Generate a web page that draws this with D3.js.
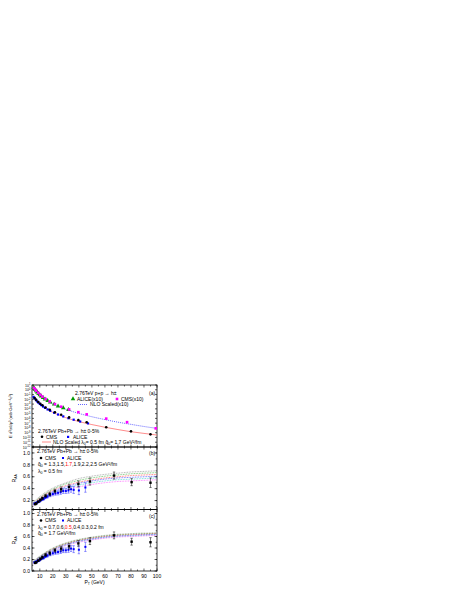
<!DOCTYPE html>
<html>
<head>
<meta charset="utf-8">
<script src="https://cdn.jsdelivr.net/npm/d3@7"></script>
<style>
  body { margin: 0; background: #fff; }
  text { font-family: "Liberation Sans", "DejaVu Sans", Arial, sans-serif; fill: #000; }
</style>
</head>
<body>
<div id="chart"></div>
<script>
// ---- data ----
const nloPt = [5, 6, 7, 8, 10, 12, 15, 20, 25, 30, 40, 50, 60, 70, 80, 90, 100];
const nloPPx10 = [4.0, 1.6, 0.71, 0.33, 0.089, 0.028, 7.1e-3, 1.1e-3, 2.5e-4, 7.9e-5, 1.1e-5, 2.2e-6, 5.6e-7, 1.6e-7, 5.6e-8, 2.0e-8, 7.9e-9];
const nloPbPb = [0.040, 0.018, 8.9e-3, 4.5e-3, 1.3e-3, 4.5e-4, 1.1e-4, 1.8e-5, 4.5e-6, 1.4e-6, 2.2e-7, 5.0e-8, 1.4e-8, 4.5e-9, 1.6e-9, 7.1e-10, 3.2e-10];

const alicePPPt = [5.2, 5.8, 6.5, 7.2, 8.0, 9.0, 10.0, 11.0, 12.5, 14.0, 16.0, 18.0, 21.0, 24.0, 28.0, 32.0];
const alicePPx10 = [3.0, 1.8, 1.0, 0.55, 0.31, 0.15, 0.08, 0.045, 0.022, 0.011, 5.0e-3, 2.4e-3, 9.0e-4, 3.8e-4, 1.5e-4, 6.5e-5];

const cmsPPPt = [5.4, 6.4, 7.2, 8.8, 10.4, 12.0, 14.4, 17.6, 21.6, 26.4, 32.5, 39.6, 46.0, 61.0, 77.0, 99.0];
const cmsPPx10 = [2.6, 1.2, 0.65, 0.22, 0.085, 0.036, 0.012, 3.6e-3, 1.0e-3, 2.8e-4, 7.5e-5, 2.0e-5, 7.0e-6, 9.0e-7, 1.6e-7, 8.0e-9];

const cmsAAPt = [6.0, 7.2, 8.8, 10.4, 12.0, 14.4, 17.6, 21.6, 26.4, 32.5, 39.6, 46.0, 61.0, 80.0, 95.0];
const cmsAAYield = [0.019, 7.5e-3, 2.8e-3, 1.2e-3, 5.5e-4, 1.9e-4, 6.5e-5, 1.9e-5, 5.8e-6, 1.6e-6, 4.3e-7, 1.6e-7, 1.4e-8, 1.9e-9, 4.5e-10];

const aliceAAPt = [5.2, 5.8, 6.5, 7.2, 8.0, 9.0, 10.0, 11.0, 12.5, 14.0, 16.0, 18.0, 21.0, 24.0, 28.0, 32.0, 36.0, 41.0, 47.0];
const aliceAAYield = [0.032, 0.02, 0.011, 6.5e-3, 3.6e-3, 1.9e-3, 1.05e-3, 6.2e-4, 3.0e-4, 1.6e-4, 7.5e-5, 3.8e-5, 1.5e-5, 6.5e-6, 2.6e-6, 1.1e-6, 5.3e-7, 2.2e-7, 9.0e-8];

// R_AA data
const cmsRaaPt = [6.4, 7.2, 8.8, 10.4, 12.0, 14.4, 17.6, 21.6, 26.4, 32.5, 39.6, 48.5, 67.0, 80.5, 95.0];
const cmsRaa = [0.14, 0.15, 0.18, 0.21, 0.24, 0.28, 0.31, 0.36, 0.39, 0.43, 0.48, 0.52, 0.62, 0.51, 0.50];
const cmsRaaErr = [0.01, 0.01, 0.015, 0.02, 0.02, 0.025, 0.03, 0.03, 0.04, 0.045, 0.05, 0.06, 0.06, 0.06, 0.08];

const aliceRaaPt = [6.0, 6.5, 7.0, 7.5, 8.0, 9.0, 10.0, 11.0, 12.0, 13.0, 14.0, 15.0, 16.0, 18.0, 20.0, 22.0, 24.0, 26.0, 28.0, 30.0, 32.0, 34.0, 36.0, 40.0, 45.0];
const aliceRaa = [0.15, 0.15, 0.16, 0.16, 0.17, 0.18, 0.19, 0.21, 0.22, 0.23, 0.25, 0.26, 0.27, 0.29, 0.31, 0.32, 0.33, 0.34, 0.36, 0.36, 0.37, 0.39, 0.38, 0.37, 0.42];
const aliceRaaErr = [0.01, 0.01, 0.01, 0.01, 0.012, 0.012, 0.015, 0.015, 0.018, 0.02, 0.02, 0.022, 0.025, 0.025, 0.03, 0.03, 0.035, 0.035, 0.04, 0.04, 0.045, 0.05, 0.06, 0.07, 0.08];

const curvePt = [5, 10, 20, 30, 40, 50, 60, 70, 80, 90, 100];
// panel (b): qhat0 = 1.3, 1.5, 1.7, 1.9, 2.2, 2.5 GeV^2/fm
const qhatLabels = ['1.3', '1.5', '1.7', '1.9', '2.2', '2.5'];
const raaQhat = [
  [0.17, 0.27, 0.41, 0.50, 0.57, 0.61, 0.64, 0.66, 0.68, 0.69, 0.70],
  [0.16, 0.25, 0.39, 0.48, 0.54, 0.58, 0.61, 0.63, 0.65, 0.66, 0.67],
  [0.15, 0.24, 0.37, 0.45, 0.51, 0.55, 0.58, 0.60, 0.62, 0.63, 0.64],
  [0.14, 0.22, 0.35, 0.43, 0.49, 0.53, 0.56, 0.58, 0.59, 0.60, 0.61],
  [0.13, 0.21, 0.32, 0.40, 0.46, 0.50, 0.53, 0.55, 0.56, 0.57, 0.58],
  [0.12, 0.19, 0.30, 0.38, 0.43, 0.47, 0.50, 0.52, 0.53, 0.54, 0.55]
];
// panel (c): lambda0 = 0.7, 0.6, 0.5, 0.4, 0.3, 0.2 fm
const lambdaLabels = ['0.7', '0.6', '0.5', '0.4', '0.3', '0.2'];
const raaLambda = [
  [0.17, 0.26, 0.40, 0.49, 0.55, 0.59, 0.62, 0.64, 0.65, 0.66, 0.66],
  [0.16, 0.25, 0.39, 0.48, 0.54, 0.58, 0.61, 0.63, 0.64, 0.65, 0.66],
  [0.15, 0.24, 0.38, 0.47, 0.53, 0.57, 0.60, 0.62, 0.63, 0.64, 0.65],
  [0.15, 0.24, 0.37, 0.46, 0.52, 0.56, 0.59, 0.61, 0.62, 0.63, 0.64],
  [0.14, 0.23, 0.36, 0.45, 0.51, 0.55, 0.58, 0.60, 0.61, 0.62, 0.63],
  [0.13, 0.22, 0.35, 0.44, 0.50, 0.54, 0.57, 0.59, 0.60, 0.61, 0.62]
];
const curveColors = ['#888888', '#33aa33', '#ff3333', '#3333ff', '#33cccc', '#ff44ff'];

const xTicks = [10, 20, 30, 40, 50, 60, 70, 80, 90, 100];
const raaTicks = [0.2, 0.4, 0.6, 0.8, 1.0];
const raaTicksC = [0.0, 0.2, 0.4, 0.6, 0.8, 1.0];

// ---- layout ----
const width = 463;
const height = 599;
const left = 32;
const right = 157;
const topA = 385, botA = 447;
const topB = 447, botB = 509.5;
const topC = 509.5, botC = 571;

const svg = d3.select('#chart')
  .append('svg')
  .attr('width', width)
  .attr('height', height);

const x = d3.scaleLinear().domain([4, 100]).range([left, right]);
const yA = d3.scaleLog().domain([1e-12, 1e1]).range([botA, topA]);
const yB = d3.scaleLinear().domain([0.05, 1.1]).range([botB, topB]);
const yC = d3.scaleLinear().domain([0, 1.07]).range([botC, topC]);

const FS = 5;

function frame(top, bot) {
  svg.append('rect')
    .attr('x', left).attr('y', top)
    .attr('width', right - left).attr('height', bot - top)
    .attr('fill', 'none').attr('stroke', '#000').attr('stroke-width', 0.8);
}

function xTickMarks(top, bot) {
  const minor = d3.range(5, 101, 5);
  minor.forEach(v => {
    const len = v % 10 === 0 ? 2.5 : 1.5;
    svg.append('line').attr('x1', x(v)).attr('x2', x(v)).attr('y1', bot).attr('y2', bot - len)
      .attr('stroke', '#000').attr('stroke-width', 0.6);
    svg.append('line').attr('x1', x(v)).attr('x2', x(v)).attr('y1', top).attr('y2', top + len)
      .attr('stroke', '#000').attr('stroke-width', 0.6);
  });
}

function yTickMarks(scale, values, len) {
  values.forEach(v => {
    const yy = scale(v);
    svg.append('line').attr('x1', left).attr('x2', left + len).attr('y1', yy).attr('y2', yy)
      .attr('stroke', '#000').attr('stroke-width', 0.6);
    svg.append('line').attr('x1', right).attr('x2', right - len).attr('y1', yy).attr('y2', yy)
      .attr('stroke', '#000').attr('stroke-width', 0.6);
  });
}

// ---- panel (a) ----
frame(topA, botA);
xTickMarks(topA, botA);
const decades = d3.range(-12, 2);
yTickMarks(yA, decades.map(d => Math.pow(10, d)), 2);
decades.forEach(d => {
  const t = svg.append('text')
    .attr('x', left - 1.5).attr('y', yA(Math.pow(10, d)) + 1.5)
    .attr('text-anchor', 'end').attr('font-size', 3.6);
  t.append('tspan').text('10');
  t.append('tspan').attr('dy', -1.3).attr('font-size', 2.6).text(d);
});
svg.append('text')
  .attr('transform', `translate(12,${(topA + botA) / 2}) rotate(-90)`)
  .attr('text-anchor', 'middle').attr('font-size', 4.2)
  .text('E d³σ/dp³ (mb·GeV⁻²c³)');

const lineA = d3.line().x((d, i) => x(nloPt[i])).y(d => yA(d)).curve(d3.curveMonotoneX);
svg.append('path').attr('d', lineA(nloPPx10))
  .attr('fill', 'none').attr('stroke', '#4040ff').attr('stroke-width', 0.8).attr('stroke-dasharray', '1,1');
svg.append('path').attr('d', lineA(nloPbPb))
  .attr('fill', 'none').attr('stroke', '#ff6f6f').attr('stroke-width', 0.8);

function triangles(xs, ys, sc, color) {
  svg.append('g').selectAll('path').data(ys).enter().append('path')
    .attr('d', d3.symbol(d3.symbolTriangle, 9))
    .attr('transform', (d, i) => `translate(${x(xs[i])},${sc(d)})`)
    .attr('fill', color);
}
function squares(xs, ys, sc, color, s) {
  svg.append('g').selectAll('rect').data(ys).enter().append('rect')
    .attr('x', (d, i) => x(xs[i]) - s / 2).attr('y', d => sc(d) - s / 2)
    .attr('width', s).attr('height', s).attr('fill', color);
}
function dots(xs, ys, sc, color, r) {
  svg.append('g').selectAll('circle').data(ys).enter().append('circle')
    .attr('cx', (d, i) => x(xs[i])).attr('cy', d => sc(d)).attr('r', r).attr('fill', color);
}
function errorBars(xs, ys, errs, sc, color) {
  const g = svg.append('g');
  ys.forEach((v, i) => {
    const xx = x(xs[i]);
    g.append('line').attr('x1', xx).attr('x2', xx).attr('y1', sc(v - errs[i])).attr('y2', sc(v + errs[i]))
      .attr('stroke', color).attr('stroke-width', 0.5);
    [v - errs[i], v + errs[i]].forEach(e => {
      g.append('line').attr('x1', xx - 1.2).attr('x2', xx + 1.2).attr('y1', sc(e)).attr('y2', sc(e))
        .attr('stroke', color).attr('stroke-width', 0.5);
    });
  });
}

triangles(alicePPPt, alicePPx10, yA, '#009900');
squares(cmsPPPt, cmsPPx10, yA, '#ff00ff', 2.6);
squares(aliceAAPt, aliceAAYield, yA, '#0000ff', 2.2);
dots(cmsAAPt, cmsAAYield, yA, '#000', 1.3);

// panel (a) texts and legend
svg.append('text').attr('x', 75).attr('y', 395).attr('font-size', FS).text('2.76TeV  p+p → h±');
svg.append('text').attr('x', 149).attr('y', 395).attr('font-size', FS).text('(a)');
svg.append('path').attr('d', d3.symbol(d3.symbolTriangle, 9)).attr('transform', 'translate(73,399)').attr('fill', '#009900');
svg.append('text').attr('x', 77).attr('y', 401).attr('font-size', FS).text('ALICE(x10)');
svg.append('rect').attr('x', 115.7).attr('y', 397.7).attr('width', 2.6).attr('height', 2.6).attr('fill', '#ff00ff');
svg.append('text').attr('x', 121).attr('y', 401).attr('font-size', FS).text('CMS(x10)');
svg.append('line').attr('x1', 78).attr('x2', 88).attr('y1', 404.5).attr('y2', 404.5)
  .attr('stroke', '#4040ff').attr('stroke-width', 0.8).attr('stroke-dasharray', '1,1');
svg.append('text').attr('x', 90).attr('y', 406).attr('font-size', FS).text('NLO Scaled(x10)');

svg.append('text').attr('x', 38).attr('y', 433).attr('font-size', FS).text('2.76TeV  Pb+Pb → h±  0-5%');
svg.append('circle').attr('cx', 42).attr('cy', 436.8).attr('r', 1.3).attr('fill', '#000');
svg.append('text').attr('x', 46).attr('y', 438.5).attr('font-size', FS).text('CMS');
svg.append('rect').attr('x', 67).attr('y', 435.8).attr('width', 2.2).attr('height', 2.2).attr('fill', '#0000ff');
svg.append('text').attr('x', 73).attr('y', 438.5).attr('font-size', FS).text('ALICE');
svg.append('line').attr('x1', 42).attr('x2', 51).attr('y1', 442).attr('y2', 442)
  .attr('stroke', '#ff6f6f').attr('stroke-width', 0.8);
const tA = svg.append('text').attr('x', 53).attr('y', 443.5).attr('font-size', FS);
tA.append('tspan').text('NLO Scaled  λ');
tA.append('tspan').attr('dy', 1).attr('font-size', 3.5).text('0');
tA.append('tspan').attr('dy', -1).text('= 0.5 fm  q̂');
tA.append('tspan').attr('dy', 1).attr('font-size', 3.5).text('0');
tA.append('tspan').attr('dy', -1).text('= 1.7 GeV²/fm');

// ---- panels (b) and (c) ----
function raaPanel(sc, top, bot, curves, ticks, tag, lines) {
  frame(top, bot);
  xTickMarks(top, bot);
  yTickMarks(sc, d3.range(0, 1.11, 0.1).filter(v => v >= sc.domain()[0] && v <= sc.domain()[1]), 1.3);
  yTickMarks(sc, ticks, 2.5);
  ticks.forEach(v => {
    svg.append('text').attr('x', left - 2).attr('y', sc(v) + 1.7)
      .attr('text-anchor', 'end').attr('font-size', FS).text(v.toFixed(1));
  });
  const rt = svg.append('text')
    .attr('transform', `translate(16,${(top + bot) / 2}) rotate(-90)`)
    .attr('text-anchor', 'middle').attr('font-size', FS);
  rt.append('tspan').text('R');
  rt.append('tspan').attr('dy', 1).attr('font-size', 3.5).text('AA');

  const ln = d3.line().x((d, i) => x(curvePt[i])).y(d => sc(d)).curve(d3.curveMonotoneX);
  curves.forEach((c, k) => {
    svg.append('path').attr('d', ln(c)).attr('fill', 'none')
      .attr('stroke', curveColors[k]).attr('stroke-width', 0.7).attr('stroke-dasharray', '0.8,0.8');
  });
  errorBars(aliceRaaPt, aliceRaa, aliceRaaErr, sc, '#3333ff');
  squares(aliceRaaPt, aliceRaa, sc, '#0000ff', 2);
  errorBars(cmsRaaPt, cmsRaa, cmsRaaErr, sc, '#000');
  squares(cmsRaaPt, cmsRaa, sc, '#000', 2.4);

  svg.append('text').attr('x', 37).attr('y', top + 6).attr('font-size', FS).text('2.76TeV  Pb+Pb → h±  0-5%');
  svg.append('text').attr('x', 149).attr('y', top + 8).attr('font-size', FS).text(tag);
  svg.append('circle').attr('cx', 41).attr('cy', top + 11).attr('r', 1.3).attr('fill', '#000');
  svg.append('text').attr('x', 45).attr('y', top + 12.7).attr('font-size', FS).text('CMS');
  svg.append('rect').attr('x', 62).attr('y', top + 10).attr('width', 2).attr('height', 2).attr('fill', '#0000ff');
  svg.append('text').attr('x', 67).attr('y', top + 12.7).attr('font-size', FS).text('ALICE');
  lines.forEach((ln2, k) => {
    const t = svg.append('text').attr('x', 38).attr('y', top + 19 + k * 6.5).attr('font-size', FS);
    t.append('tspan').text(ln2.sym);
    t.append('tspan').attr('dy', 1).attr('font-size', 3.5).text('0');
    t.append('tspan').attr('dy', -1).text(' = ');
    if (ln2.list) {
      ln2.list.forEach((v, i) => {
        t.append('tspan').attr('fill', v === ln2.hi ? '#ff0000' : '#000').text(v);
        if (i < ln2.list.length - 1) t.append('tspan').text(',');
      });
      t.append('tspan').text(ln2.unit);
    } else {
      t.append('tspan').text(ln2.text);
    }
  });
}

raaPanel(yB, topB, botB, raaQhat, raaTicks, '(b)', [
  { sym: 'q̂', list: qhatLabels, hi: '1.7', unit: ' GeV²/fm' },
  { sym: 'λ', text: '0.5 fm' }
]);
raaPanel(yC, topC, botC, raaLambda, raaTicksC, '(c)', [
  { sym: 'λ', list: lambdaLabels, hi: '0.5', unit: ' fm' },
  { sym: 'q̂', text: '1.7 GeV²/fm' }
]);

// x axis labels
xTicks.forEach(v => {
  svg.append('text').attr('x', x(v)).attr('y', botC + 6.5)
    .attr('text-anchor', 'middle').attr('font-size', FS).text(v);
});
const xl = svg.append('text').attr('x', (left + right) / 2).attr('y', 584)
  .attr('text-anchor', 'middle').attr('font-size', FS);
xl.append('tspan').text('P');
xl.append('tspan').attr('dy', 1).attr('font-size', 3.5).text('T');
xl.append('tspan').attr('dy', -1).text(' (GeV)');
</script>
</body>
</html>
